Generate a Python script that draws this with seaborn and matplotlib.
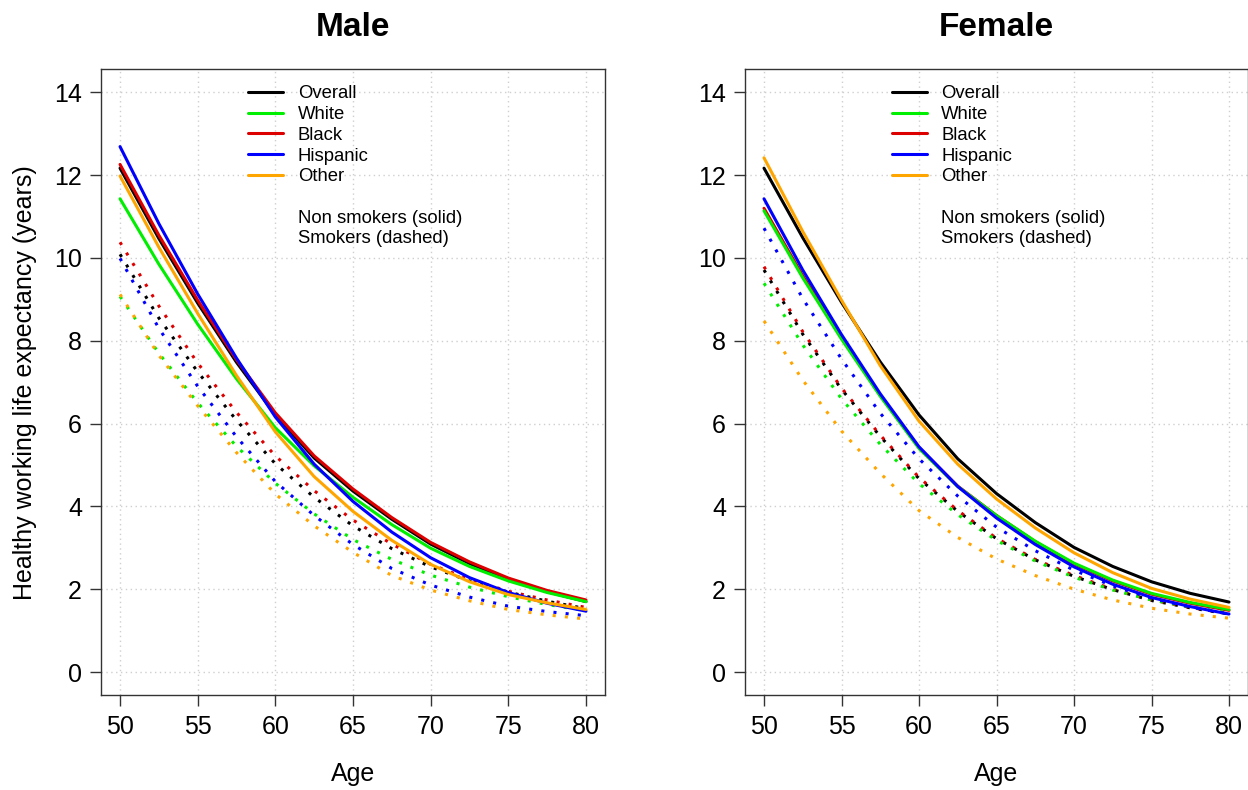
import matplotlib.pyplot as plt
import seaborn as sns
import pandas as pd
from matplotlib.lines import Line2D

# Healthy working life expectancy by age
ages = [50, 52.5, 55, 57.5, 60, 62.5, 65, 67.5, 70, 72.5, 75, 77.5, 80]

groups = ['Overall', 'White', 'Black', 'Hispanic', 'Other']
group_colors = ['black', '#00EE00', '#DD0000', '#0000FF', '#FFA500']
# drawing order (black under white so the green line stays on top, as in the original)
draw_order = ['Overall', 'Black', 'White', 'Hispanic', 'Other']

# Male, non smokers
male_overall_ns = [12.17, 10.47, 8.91, 7.48, 6.21, 5.17, 4.37, 3.69, 3.09, 2.62, 2.24, 1.94, 1.70]
male_white_ns = [11.43, 9.85, 8.40, 7.08, 5.90, 4.98, 4.22, 3.56, 2.99, 2.55, 2.20, 1.92, 1.70]
male_black_ns = [12.26, 10.55, 8.98, 7.54, 6.26, 5.22, 4.42, 3.73, 3.13, 2.66, 2.27, 1.97, 1.74]
male_hisp_ns = [12.69, 10.83, 9.13, 7.58, 6.16, 5.02, 4.12, 3.38, 2.76, 2.28, 1.92, 1.66, 1.47]
male_other_ns = [11.98, 10.26, 8.66, 7.16, 5.80, 4.72, 3.88, 3.18, 2.60, 2.18, 1.87, 1.67, 1.51]

# Male, smokers
male_overall_s = [10.09, 8.55, 7.25, 6.08, 5.03, 4.22, 3.53, 2.98, 2.54, 2.20, 1.93, 1.71, 1.53]
male_white_s = [9.07, 7.70, 6.50, 5.45, 4.56, 3.82, 3.20, 2.72, 2.34, 2.05, 1.82, 1.63, 1.48]
male_black_s = [10.38, 8.84, 7.46, 6.27, 5.22, 4.38, 3.67, 3.09, 2.60, 2.24, 1.95, 1.74, 1.56]
male_hisp_s = [9.99, 8.30, 6.90, 5.68, 4.60, 3.78, 3.08, 2.50, 2.10, 1.81, 1.59, 1.46, 1.36]
male_other_s = [9.12, 7.65, 6.43, 5.30, 4.30, 3.53, 2.89, 2.33, 1.98, 1.72, 1.51, 1.38, 1.28]

# Female, non smokers
female_overall_ns = [12.17, 10.49, 8.93, 7.49, 6.21, 5.15, 4.31, 3.61, 3.01, 2.55, 2.18, 1.90, 1.69]
female_white_ns = [11.14, 9.52, 8.04, 6.66, 5.40, 4.48, 3.78, 3.16, 2.63, 2.22, 1.90, 1.68, 1.51]
female_black_ns = [11.20, 9.57, 8.08, 6.69, 5.42, 4.49, 3.78, 3.15, 2.61, 2.20, 1.88, 1.66, 1.49]
female_hisp_ns = [11.43, 9.71, 8.15, 6.72, 5.44, 4.48, 3.72, 3.08, 2.54, 2.12, 1.80, 1.58, 1.40]
female_other_ns = [12.42, 10.64, 8.98, 7.40, 6.06, 5.02, 4.18, 3.48, 2.88, 2.40, 2.02, 1.76, 1.56]

# Female, smokers
female_overall_s = [9.71, 8.16, 6.83, 5.69, 4.67, 3.88, 3.22, 2.71, 2.31, 1.99, 1.73, 1.55, 1.40]
female_white_s = [9.39, 7.90, 6.60, 5.50, 4.55, 3.80, 3.18, 2.68, 2.29, 1.98, 1.74, 1.57, 1.43]
female_black_s = [9.79, 8.22, 6.86, 5.72, 4.70, 3.90, 3.23, 2.72, 2.33, 2.00, 1.74, 1.56, 1.41]
female_hisp_s = [10.72, 9.02, 7.56, 6.25, 5.15, 4.25, 3.50, 2.93, 2.46, 2.08, 1.78, 1.57, 1.40]
female_other_s = [8.48, 7.05, 5.82, 4.80, 3.90, 3.25, 2.73, 2.33, 2.00, 1.74, 1.54, 1.40, 1.30]

male_series = {
    ('Overall', 'Non smoker'): male_overall_ns, ('White', 'Non smoker'): male_white_ns,
    ('Black', 'Non smoker'): male_black_ns, ('Hispanic', 'Non smoker'): male_hisp_ns,
    ('Other', 'Non smoker'): male_other_ns,
    ('Overall', 'Smoker'): male_overall_s, ('White', 'Smoker'): male_white_s,
    ('Black', 'Smoker'): male_black_s, ('Hispanic', 'Smoker'): male_hisp_s,
    ('Other', 'Smoker'): male_other_s,
}
female_series = {
    ('Overall', 'Non smoker'): female_overall_ns, ('White', 'Non smoker'): female_white_ns,
    ('Black', 'Non smoker'): female_black_ns, ('Hispanic', 'Non smoker'): female_hisp_ns,
    ('Other', 'Non smoker'): female_other_ns,
    ('Overall', 'Smoker'): female_overall_s, ('White', 'Smoker'): female_white_s,
    ('Black', 'Smoker'): female_black_s, ('Hispanic', 'Smoker'): female_hisp_s,
    ('Other', 'Smoker'): female_other_s,
}


def to_long(series):
    rows = []
    for (group, smoking), values in series.items():
        for age, v in zip(ages, values):
            rows.append({'age': age, 'hle': v, 'group': group, 'smoking': smoking})
    return pd.DataFrame(rows)


sns.set_theme(style='white')
plt.rcParams['font.family'] = ['Liberation Sans', 'DejaVu Sans']
plt.rcParams['text.color'] = 'black'
plt.rcParams['axes.labelcolor'] = 'black'

fig = plt.figure(figsize=(12.48, 7.9), dpi=100)
W, H = 1248, 790
ax_m = fig.add_axes([101.4 / W, 1 - 695.2 / H, 503.2 / W, 626 / H])
ax_f = fig.add_axes([745.4 / W, 1 - 695.2 / H, 502.2 / W, 626 / H])

palette = dict(zip(groups, group_colors))
edge = '#333333'
for ax, series, title in [(ax_m, male_series, 'Male'), (ax_f, female_series, 'Female')]:
    df = to_long(series)
    sns.lineplot(data=df, x='age', y='hle', hue='group', style='smoking',
                 hue_order=draw_order, palette=palette,
                 style_order=['Non smoker', 'Smoker'],
                 dashes={'Non smoker': '', 'Smoker': (1, 3)},
                 linewidth=2.2, legend=False, errorbar=None, sort=False, ax=ax)

    ax.set_xlim(48.8, 81.2)
    ax.set_ylim(-0.56, 14.56)
    ax.set_xticks(range(50, 81, 5))
    ax.set_yticks(range(0, 15, 2))
    ax.grid(True, color='#CFCFCF', linestyle=(0, (1, 2.5)), linewidth=1)
    ax.set_axisbelow(True)
    ax.tick_params(direction='out', length=8, width=1, labelsize=18, pad=6,
                   color=edge, labelcolor='black', left=True, bottom=True)
    for sp in ax.spines.values():
        sp.set_visible(True)
        sp.set_color(edge)
        sp.set_linewidth(1)

    ax.set_title(title, fontsize=24, fontweight='bold', pad=24, color='black')
    ax.set_xlabel('Age', fontsize=18, labelpad=17)
    ax.set_ylabel('')

    handles = [Line2D([0], [0], color=c, lw=2.2) for c in group_colors]
    handles += [Line2D([0], [0], color='none') for _ in range(3)]
    labels = groups + ['', 'Non smokers (solid)', 'Smokers (dashed)']
    ax.legend(handles, labels, loc='upper left', bbox_to_anchor=(0.291, 0.974),
              frameon=False, fontsize=13.3, handlelength=1.9, handletextpad=0.8,
              labelspacing=0.2, borderpad=0, borderaxespad=0)

ax_m.set_ylabel('Healthy working life expectancy (years)', fontsize=18, labelpad=12)

fig.savefig('out.png', dpi=100)
